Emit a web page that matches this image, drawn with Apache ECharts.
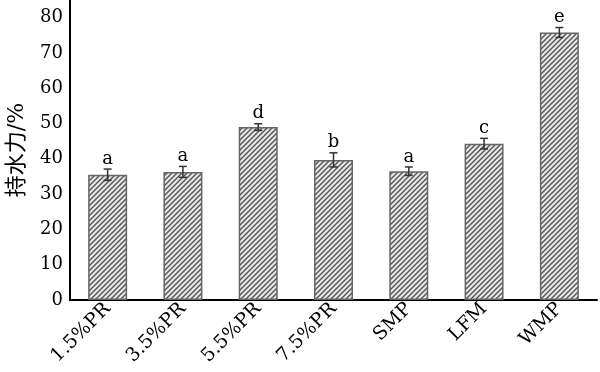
<!DOCTYPE html>
<html><head><meta charset="utf-8">
<script src="https://cdn.jsdelivr.net/npm/echarts@6/dist/echarts.min.js"></script>
<style>html,body{margin:0;padding:0;background:#fff}#c{width:600px;height:372px}</style>
</head><body><div id="c"></div>
<script>
const categories = ['1.5%PR','3.5%PR','5.5%PR','7.5%PR','SMP','LFM','WMP'];
const values = [35.5, 36.3, 49.0, 39.7, 36.5, 44.3, 75.8];
const errors = [1.6, 1.55, 0.95, 2.0, 1.2, 1.5, 1.4];
const letters = ['a','a','d','b','a','c','e'];
const yTicks = [0,10,20,30,40,50,60,70,80];

function hatch(){
  const c = document.createElement('canvas');
  c.width = 5; c.height = 5;
  const g = c.getContext('2d');
  g.fillStyle = '#e6e6e6'; g.fillRect(0,0,5,5);
  g.strokeStyle = '#555'; g.lineWidth = 1.4;
  g.beginPath();
  g.moveTo(-1,6); g.lineTo(6,-1);
  g.moveTo(-1,1); g.lineTo(1,-1);
  g.moveTo(4,6); g.lineTo(6,4);
  g.stroke();
  return c;
}
const font = '"DejaVu Serif", "Liberation Serif", serif';
const chart = echarts.init(document.getElementById('c'), null, {renderer:'canvas'});
chart.setOption({
  animation:false,
  grid:{left:70,right:3,top:0,bottom:72,outerBoundsMode:'none',containLabel:false},
  xAxis:{type:'category',data:categories,
    axisLine:{lineStyle:{color:'#000',width:2}},
    axisTick:{alignWithLabel:true,inside:true,length:5,lineStyle:{color:'#000',width:2}},
    axisLabel:{rotate:45,color:'#000',fontSize:19,fontFamily:font,margin:6,interval:0}},
  yAxis:{type:'value',min:0,max:85,interval:10,
    name:'持水力/%',nameLocation:'middle',nameGap:42,nameRotate:90,
    nameTextStyle:{color:'#000',fontSize:22,fontFamily:'"DejaVu Serif", "Noto Sans CJK SC", serif'},
    splitLine:{show:false},
    axisLine:{show:true,lineStyle:{color:'#000',width:2}},
    axisTick:{inside:true,length:5,lineStyle:{color:'#000',width:2}},
    axisLabel:{color:'#000',fontSize:18,fontFamily:font,margin:7,
      formatter:v=>yTicks.indexOf(v)>=0?String(v):''}},
  series:[
    {type:'bar',data:values,barWidth:39,
      itemStyle:{color:{image:hatch(),repeat:'repeat'},borderColor:'#666',borderWidth:1.5}},
    {type:'custom',data:values.map((v,i)=>[i,v,errors[i]]),z:5,
      renderItem:function(params,api){
        const i=api.value(0), v=api.value(1), e=api.value(2);
        const top=api.coord([i,v+e]), bot=api.coord([i,v-e]);
        const x=top[0], hw=4;
        return {type:'group',children:[
          {type:'line',shape:{x1:x,y1:top[1],x2:x,y2:bot[1]},style:{stroke:'#333',lineWidth:1.5}},
          {type:'line',shape:{x1:x-hw,y1:top[1],x2:x+hw,y2:top[1]},style:{stroke:'#333',lineWidth:1.5}},
          {type:'line',shape:{x1:x-hw,y1:bot[1],x2:x+hw,y2:bot[1]},style:{stroke:'#333',lineWidth:1.5}},
          {type:'text',style:{text:letters[params.dataIndex],x:x,y:top[1]-1,align:'center',verticalAlign:'bottom',
            font:'18px '+font,fill:'#000'}}
        ]};
      }}
  ]
});
</script></body></html>
